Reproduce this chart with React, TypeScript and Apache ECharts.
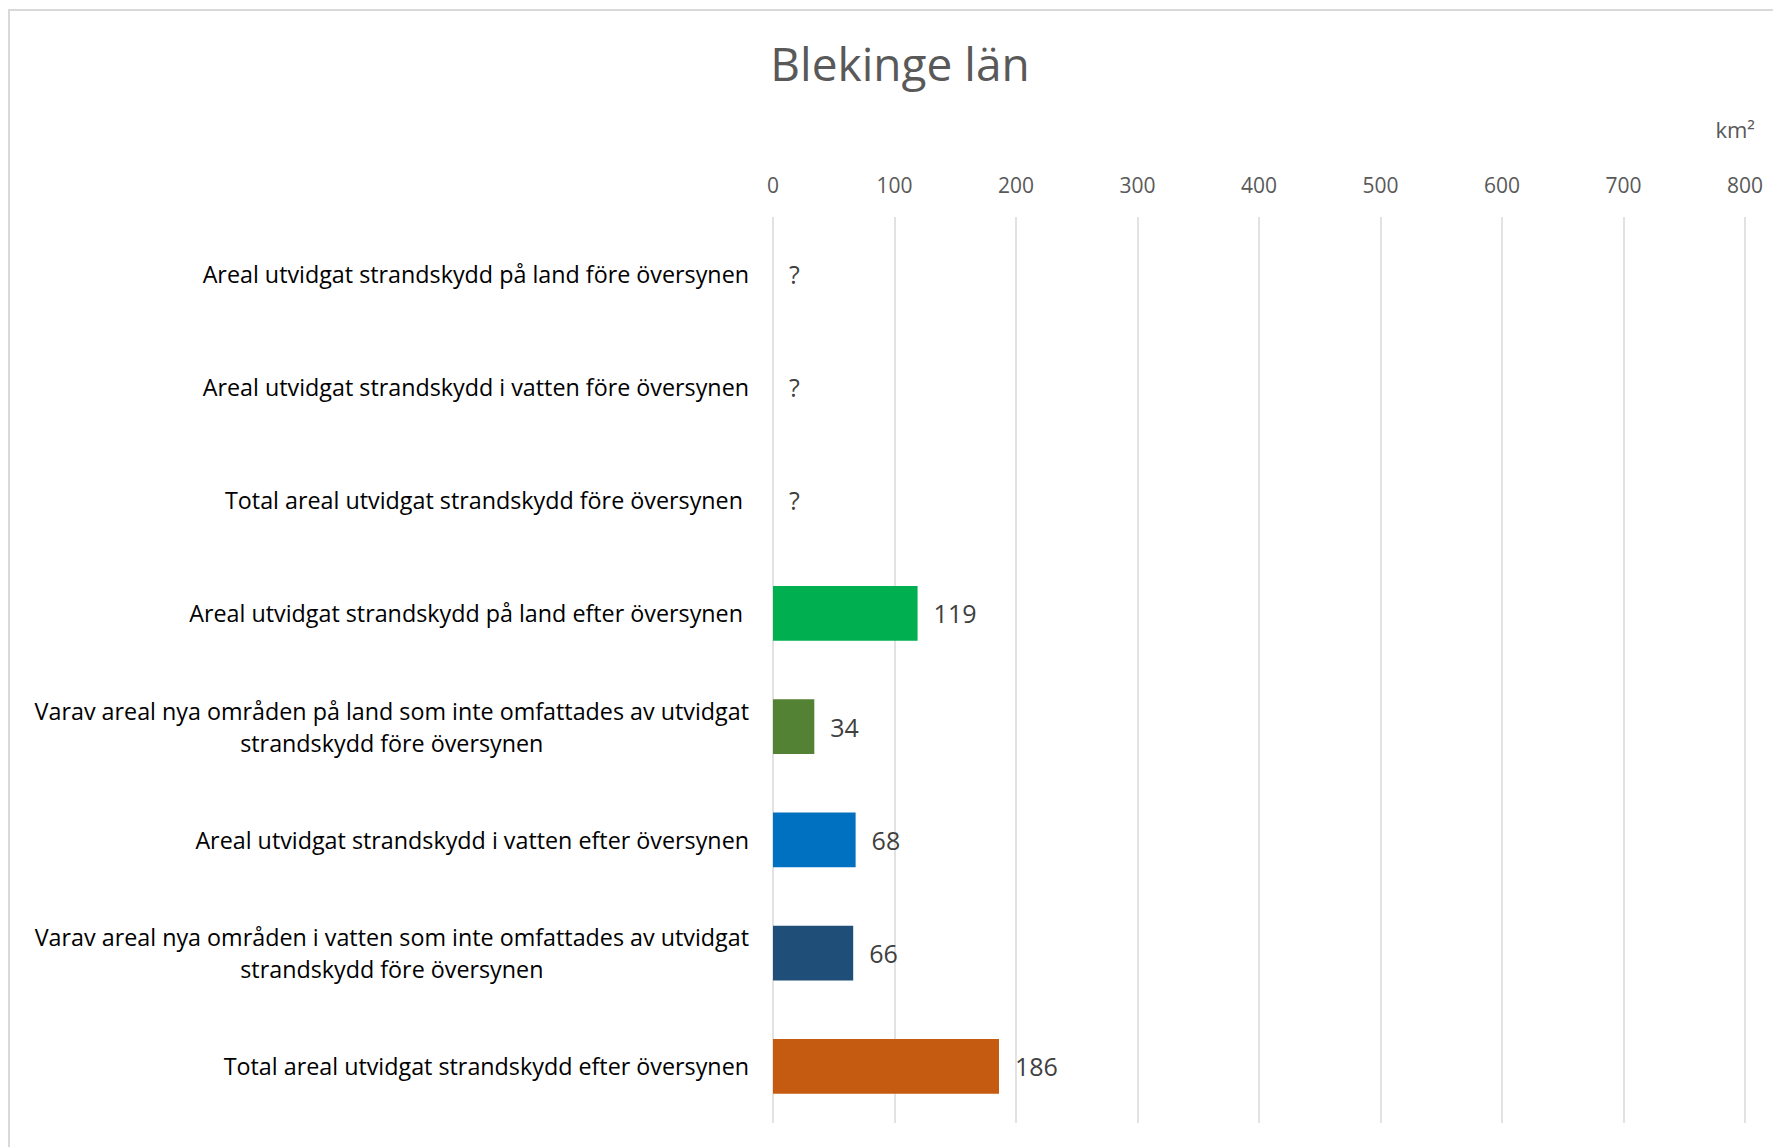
import React, { useEffect, useRef } from 'react';
import * as echarts from 'echarts';

const chartTitle = 'Blekinge län';
const unitLabel = 'km²';
const categories: string[] = [
  'Areal utvidgat strandskydd på land före översynen',
  'Areal utvidgat strandskydd i vatten före översynen',
  'Total areal utvidgat strandskydd före översynen ',
  'Areal utvidgat strandskydd på land efter översynen ',
  'Varav areal nya områden på land som inte omfattades av utvidgat\nstrandskydd före översynen',
  'Areal utvidgat strandskydd i vatten efter översynen',
  'Varav areal nya områden i vatten som inte omfattades av utvidgat\nstrandskydd före översynen',
  'Total areal utvidgat strandskydd efter översynen',
];
const values: (number | null)[] = [null, null, null, 119, 34, 68, 66, 186];
const barColors: string[] = ['#A5A5A5', '#A5A5A5', '#A5A5A5', '#00B050', '#548235', '#0070C0', '#1F4E79', '#C55A11'];
const unknownLabel = '?';
const axisMin = 0;
const axisMax = 800;
const axisStep = 100;

const FONT = '"Open Sans", sans-serif';

export default function App() {
  const ref = useRef<HTMLDivElement>(null);
  useEffect(() => {
    const chart = echarts.init(ref.current as HTMLDivElement, null, { renderer: 'svg' });
    const data = values.map((v, i) =>
      v === null
        ? { value: 0, label: { formatter: unknownLabel } }
        : { value: v, itemStyle: { color: barColors[i] } }
    );
    chart.setOption({
      animation: false,
      backgroundColor: '#ffffff',
      textStyle: { fontFamily: FONT },
      grid: { left: 773, right: 28, top: 217, bottom: 24, containLabel: false, outerBoundsMode: 'none' },
      xAxis: {
        type: 'value',
        position: 'top',
        min: axisMin,
        max: axisMax,
        interval: axisStep,
        axisLine: { show: false },
        axisTick: { show: false },
        axisLabel: { color: '#595959', fontSize: 21, margin: 22, fontFamily: FONT },
        splitLine: { show: true, lineStyle: { color: '#d9d9d9', width: 1.5 } },
      },
      yAxis: {
        type: 'category',
        inverse: true,
        data: categories,
        axisLine: { show: false },
        axisTick: { show: false },
        splitLine: { show: false },
        axisLabel: {
          margin: 24,
          interval: 0,
          formatter: (v: string) => v.split('\n').map((l) => `{c|${l}}`).join('\n'),
          rich: {
            c: { align: 'center', fontSize: 23.3, lineHeight: 32, color: '#000000', fontFamily: FONT },
          },
        },
      },
      series: [
        {
          type: 'bar',
          data,
          barWidth: '48.5%',
          label: {
            show: true,
            position: 'right',
            distance: 16,
            fontSize: 25,
            color: '#404040',
            fontFamily: FONT,
          },
        },
      ],
      graphic: [
        {
          type: 'rect',
          silent: true,
          z: -10,
          shape: { x: 9, y: 10, width: 1900, height: 1300 },
          style: { fill: 'none', stroke: '#d9d9d9', lineWidth: 2 },
        },
        {
          type: 'text',
          x: 900,
          y: 63,
          style: {
            text: chartTitle,
            fontSize: 46,
            fontFamily: FONT,
            fill: '#595959',
            align: 'center',
            verticalAlign: 'middle',
          },
        },
        {
          type: 'text',
          x: 1755,
          y: 129,
          style: {
            text: unitLabel,
            fontSize: 22,
            fontFamily: FONT,
            fill: '#595959',
            align: 'right',
            verticalAlign: 'middle',
          },
        },
      ],
    });
    return () => chart.dispose();
  }, []);
  return <div ref={ref} style={{ position: 'fixed', left: 0, top: 0, width: 1773, height: 1147 }} />;
}
